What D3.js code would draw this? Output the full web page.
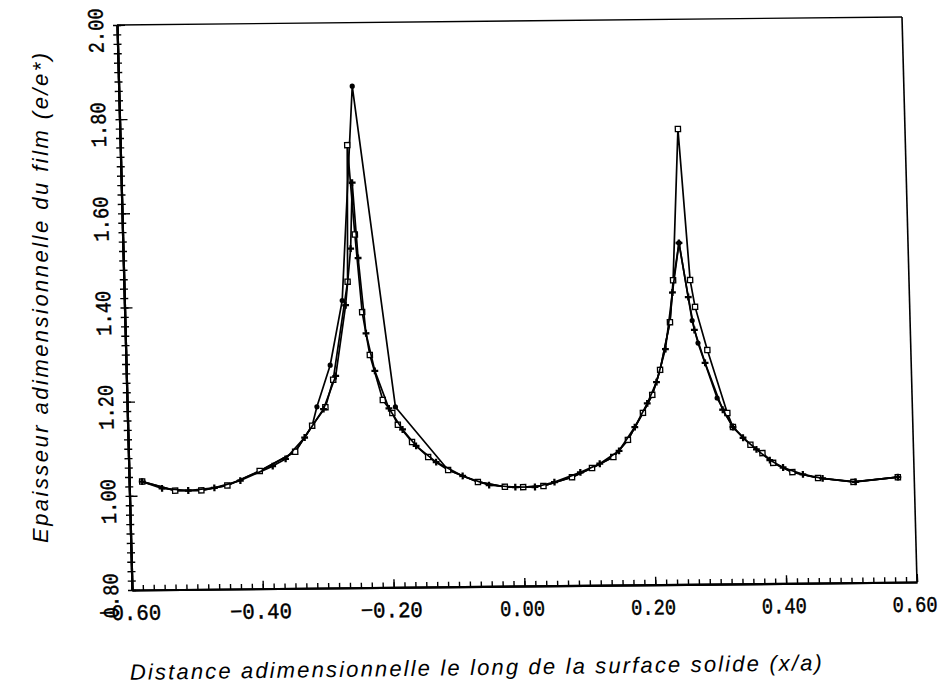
<!DOCTYPE html>
<html><head><meta charset="utf-8">
<script src="https://cdn.jsdelivr.net/npm/d3@7"></script>
<style>
body{margin:0;background:#fff}
svg{display:block}
</style>
</head><body>
<svg id="chart" width="945" height="695"></svg>
<script>
// ---- data ----
const xTicks = [-0.6,-0.4,-0.2,0,0.2,0.4,0.6];
const xTickLabels = ["\u22120.60","\u22120.40","\u22120.20","0.00","0.20","0.40","0.60"];
const yTicks = [0.8,1.0,1.2,1.4,1.6,1.8,2.0];
const yTickLabels = ["0.80","1.00","1.20","1.40","1.60","1.80","2.00"];
const xTitle = "Distance adimensionnelle le long de la surface solide (x/a)";
const yTitle = "Epaisseur adimensionnelle du film (e/e*)";

// series A (filled dots) : tallest left peak
const seriesA_x = [-0.58,-0.53,-0.49,-0.45,-0.40,-0.345,-0.318,-0.31,-0.288,-0.267,-0.243,-0.19,-0.112,-0.067,-0.026,0.002,0.033,0.077,0.108,0.141,0.164,0.188,0.203,0.216,0.233,0.24,0.25,0.267,0.275,0.302,0.325,0.351,0.369,0.385,0.414,0.453,0.507,0.575];
const seriesA_y = [1.03,1.01,1.01,1.02,1.05,1.09,1.145,1.185,1.273,1.41,1.865,1.183,1.048,1.022,1.011,1.01,1.012,1.03,1.049,1.072,1.108,1.165,1.203,1.256,1.357,1.446,1.525,1.36,1.312,1.195,1.133,1.095,1.077,1.056,1.036,1.023,1.014,1.023];

// series B (open squares)
const seriesB_x = [-0.58,-0.53,-0.49,-0.45,-0.40,-0.345,-0.318,-0.297,-0.284,-0.258,-0.253,-0.245,-0.237,-0.227,-0.209,-0.195,-0.187,-0.166,-0.142,-0.112,-0.067,-0.026,0.002,0.033,0.077,0.108,0.141,0.164,0.188,0.203,0.216,0.233,0.2395,0.253,0.2655,0.272,0.289,0.317,0.325,0.351,0.369,0.385,0.414,0.453,0.507,0.575];
const seriesB_y = [1.03,1.01,1.01,1.02,1.05,1.09,1.145,1.184,1.242,1.45,1.74,1.55,1.385,1.294,1.198,1.17,1.145,1.108,1.076,1.048,1.022,1.011,1.01,1.012,1.03,1.049,1.072,1.108,1.165,1.203,1.256,1.357,1.446,1.767,1.446,1.389,1.297,1.163,1.133,1.095,1.077,1.056,1.036,1.023,1.014,1.023];

// series C (crosses)
const seriesC_x = [-0.58,-0.55,-0.51,-0.47,-0.43,-0.38,-0.36,-0.33,-0.30,-0.28,-0.262,-0.252,-0.247,-0.241,-0.232,-0.22,-0.20,-0.18,-0.16,-0.13,-0.09,-0.05,-0.01,0.02,0.05,0.09,0.12,0.15,0.175,0.195,0.21,0.225,0.238,0.25,0.262,0.27,0.285,0.31,0.325,0.34,0.36,0.38,0.40,0.43,0.46,0.51,0.575];
const seriesC_y = [1.03,1.015,1.01,1.015,1.03,1.06,1.075,1.12,1.18,1.25,1.40,1.52,1.66,1.50,1.34,1.26,1.18,1.135,1.10,1.065,1.035,1.015,1.01,1.01,1.02,1.04,1.058,1.085,1.135,1.185,1.23,1.30,1.42,1.525,1.41,1.34,1.27,1.17,1.133,1.11,1.085,1.062,1.046,1.031,1.022,1.014,1.023];

// ---- chart ----
const svg = d3.select("#chart");
const W = 785, H = 565;
const x = d3.scaleLinear().domain([-0.6,0.6]).range([0,W]);
const y = d3.scaleLinear().domain([0.8,2.0]).range([H,0]);

// the scanned figure is slightly skewed: apply the same affine frame
const g = svg.append("g").attr("transform","matrix(1,-0.0102,0.02655,1,117,25)");

const monoFont = "'Liberation Mono','DejaVu Sans Mono',monospace";
const labLen = s => s.length === 5 ? 62 : 45;

// frame top / right
g.append("line").attr("x1",x(-0.6)).attr("x2",x(0.6)).attr("y1",y(2.0)).attr("y2",y(2.0))
  .attr("stroke","#000").attr("stroke-width",1.3);
g.append("line").attr("x1",x(0.6)).attr("x2",x(0.6)).attr("y1",y(2.0)).attr("y2",y(0.8))
  .attr("stroke","#000").attr("stroke-width",1.6);

// x minor ticks (inward)
const xMinor = d3.range(0, 73).map(i => -0.6 + i*(1.2/72));
g.append("g").attr("class","ax").attr("transform",`translate(0,${H})`)
  .call(d3.axisBottom(x).tickValues(xMinor).tickSizeInner(-5).tickSizeOuter(0).tickFormat(""));
// x major
const gx = g.append("g").attr("class","ax").attr("transform",`translate(0,${H})`)
  .call(d3.axisBottom(x).tickValues(xTicks).tickSizeInner(-8).tickSizeOuter(0)
        .tickFormat((d,i)=>xTickLabels[i]));
gx.selectAll("text").attr("x",-3).attr("y",14).attr("dy","0.72em")
  .attr("textLength",function(){return labLen(this.textContent);})
  .attr("lengthAdjust","spacingAndGlyphs")
  .style("font-family",monoFont).style("font-size","22px")
  .attr("fill","#000").attr("stroke","#000").attr("stroke-width",0.45);

// y minor ticks (both sides)
const yMinor = d3.range(0, 61).map(i => 0.8 + i*0.02);
g.append("g").attr("class","ax")
  .call(d3.axisLeft(y).tickValues(yMinor).tickSizeInner(4).tickSizeOuter(0).tickFormat(""));
g.append("g").attr("class","ax")
  .call(d3.axisLeft(y).tickValues(yMinor).tickSizeInner(-4).tickSizeOuter(0).tickFormat(""));
const gy = g.append("g").attr("class","ax")
  .call(d3.axisLeft(y).tickValues(yTicks).tickSizeInner(-8).tickSizeOuter(0)
        .tickFormat((d,i)=>yTickLabels[i]));
gy.selectAll("text").attr("x",0).attr("y",0).attr("dy",0)
  .attr("transform","translate(-14,5) rotate(-90)").attr("text-anchor","middle")
  .attr("textLength",function(){return labLen(this.textContent);})
  .attr("lengthAdjust","spacingAndGlyphs")
  .style("font-family",monoFont).style("font-size","22px")
  .attr("fill","#000").attr("stroke","#000").attr("stroke-width",0.45);

g.selectAll(".ax .domain").attr("stroke","#000").attr("stroke-width",2.2);
g.selectAll(".ax .tick line").attr("stroke","#000").attr("stroke-width",1.4);

// series
const line = d3.line().x(d=>x(d[0])).y(d=>y(d[1]));
const series = [
  {xs: seriesA_x, ys: seriesA_y, mk: "dot"},
  {xs: seriesB_x, ys: seriesB_y, mk: "square"},
  {xs: seriesC_x, ys: seriesC_y, mk: "cross"}
];
series.forEach(s => {
  const pts = s.xs.map((v,i)=>[v, s.ys[i]]);
  g.append("path").datum(pts).attr("d",line)
    .attr("fill","none").attr("stroke","#000").attr("stroke-width",1.7)
    .attr("stroke-linejoin","round");
  const mg = g.append("g");
  if (s.mk === "dot") {
    mg.selectAll("circle").data(pts).join("circle")
      .attr("cx",d=>x(d[0])).attr("cy",d=>y(d[1])).attr("r",2.6).attr("fill","#000");
  } else if (s.mk === "square") {
    mg.selectAll("rect").data(pts).join("rect")
      .attr("x",d=>x(d[0])-2.6).attr("y",d=>y(d[1])-2.6).attr("width",5.2).attr("height",5.2)
      .attr("fill","#fff").attr("stroke","#000").attr("stroke-width",1.3);
  } else {
    const sym = d3.symbol().type(d3.symbolCross).size(26);
    mg.selectAll("path").data(pts).join("path")
      .attr("transform",d=>`translate(${x(d[0])},${y(d[1])})`).attr("d",sym).attr("fill","#000");
  }
});

// titles
svg.append("text").attr("transform","translate(476,675) rotate(-0.8)")
  .attr("text-anchor","middle").attr("textLength",692).attr("lengthAdjust","spacing")
  .style("font-family","'Liberation Sans',Arial,sans-serif").style("font-style","italic")
  .style("font-size","22px").attr("fill","#000").text(xTitle);
svg.append("text").attr("transform","translate(48,298) rotate(-90)")
  .attr("text-anchor","middle").attr("textLength",490).attr("lengthAdjust","spacing")
  .style("font-family","'Liberation Sans',Arial,sans-serif").style("font-style","italic")
  .style("font-size","22px").attr("fill","#000").text(yTitle);
</script>
</body></html>
